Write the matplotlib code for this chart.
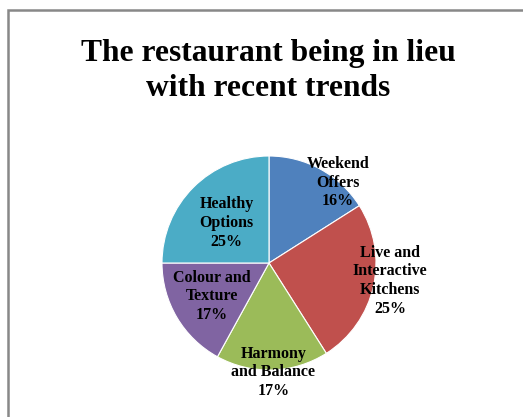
import matplotlib.pyplot as plt
from matplotlib.patches import Rectangle

# trend shares (percent)
labels = ["Weekend\nOffers", "Live and\nInteractive\nKitchens", "Harmony\nand Balance",
          "Colour and\nTexture", "Healthy\nOptions"]
shares = [16, 25, 17, 17, 25]
colors = ["#4F81BD", "#C0504D", "#9BBB59", "#8064A2", "#4BACC6"]

# label centres, in units of the pie radius
label_pos = [(0.645, 0.75), (1.13, -0.165), (0.04, -1.02), (-0.535, -0.31), (-0.395, 0.375)]

W, H = 523, 417
fig = plt.figure(figsize=(W / 100, H / 100), dpi=100)

# pie centre at (269, 263) px, radius 107 px
cx, cy, r = 269, 263, 107
ax = fig.add_axes([(cx - r) / W, (H - cy - r) / H, 2 * r / W, 2 * r / H])
ax.pie(shares, colors=colors, startangle=90, counterclock=False, radius=1,
       wedgeprops=dict(edgecolor="white", linewidth=0.8))
ax.set_xlim(-1, 1)
ax.set_ylim(-1, 1)
ax.axis("off")

for lab, val, (x, y) in zip(labels, shares, label_pos):
    ax.text(x, y, f"{lab}\n{val}%", ha="center", va="center", family="Liberation Serif",
            fontweight="bold", fontsize=11.5, linespacing=1.22, color="black")

fig.text(268 / W, 1 - 71 / H, "The restaurant being in lieu\nwith recent trends",
         ha="center", va="center", family="Liberation Serif", fontweight="bold",
         fontsize=22.7, linespacing=1.27)

# chart area border
fig.patches.append(Rectangle((8 / W, -0.1), 1.2, 1.1 - 9.5 / H, transform=fig.transFigure,
                             fill=False, edgecolor="#888888", linewidth=1.8))

fig.savefig("out.png", dpi=100)
